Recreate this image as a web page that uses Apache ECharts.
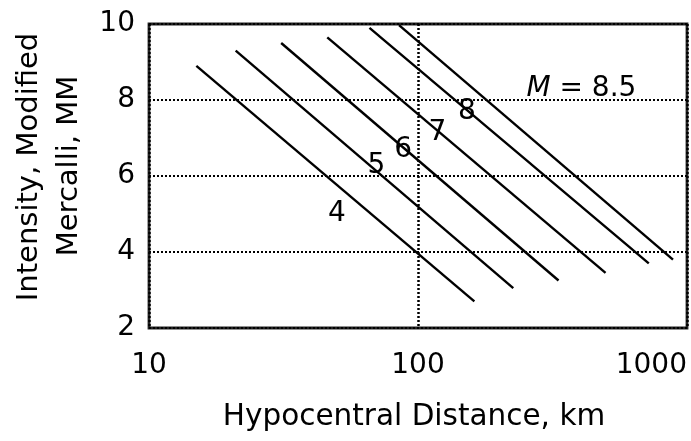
<!DOCTYPE html>
<html>
<head>
<meta charset="utf-8">
<script src="https://cdn.jsdelivr.net/npm/echarts@6/dist/echarts.min.js"></script>
<style>
html,body{margin:0;padding:0;background:#fff;}
#chart{width:691px;height:441px;}
</style>
</head>
<body>
<div id="chart"></div>
<script>
// Magnitude curves: start/end points (distance km, MMI)
const magnitudes = ['4', '5', '6', '7', '8', '8.5'];
const startDistance = [15, 21, 31, 46, 66, 85];
const startIntensity = [8.9, 9.3, 9.5, 9.65, 9.9, 9.97];
const endDistance = [162, 226, 333, 498, 721, 887];
const endIntensity = [2.7, 3.05, 3.25, 3.45, 3.7, 3.8];

// Curve labels (anchor in data coordinates)
const labelText = ['4', '5', '6', '7', '8', '{i|M} = 8.5'];
const labelDistance = [50, 70, 88, 118, 152, 405];
const labelIntensity = [5.0, 6.28, 6.68, 7.15, 7.68, 8.3];

// Axis ticks
const xTicks = [10, 100, 1000];
const yTicks = [2, 4, 6, 8, 10];

const FONT = 'DejaVu Sans';

const chart = echarts.init(document.getElementById('chart'), null, {renderer: 'canvas'});

const lineSeries = magnitudes.map((m, i) => ({
  name: 'M ' + m,
  type: 'line',
  data: [[startDistance[i], startIntensity[i]], [endDistance[i], endIntensity[i]]],
  symbol: 'none',
  lineStyle: {color: '#000', width: 2.4},
  silent: true,
  z: 3
}));

const labelSeries = {
  type: 'scatter',
  symbolSize: 0,
  itemStyle: {opacity: 1},
  data: labelText.map((t, i) => [labelDistance[i], labelIntensity[i], t]),
  label: {
    show: true,
    position: 'inside',
    formatter: p => p.data[2],
    color: '#000',
    opacity: 1,
    fontFamily: FONT,
    fontSize: 28,
    rich: {
      i: {fontStyle: 'italic', fontFamily: FONT, fontSize: 28, color: '#000'}
    }
  },
  silent: true,
  z: 4
};

chart.setOption({
  animation: false,
  backgroundColor: '#fff',
  grid: {
    left: 149, right: 4, top: 24, bottom: 113,
    show: true, borderColor: '#222', borderWidth: 2.8, backgroundColor: 'transparent'
  },
  xAxis: {
    type: 'log',
    logBase: 10,
    min: xTicks[0],
    max: xTicks[xTicks.length - 1],
    axisLine: {show: false},
    axisTick: {show: false},
    axisLabel: {
      color: '#000', fontFamily: FONT, fontSize: 28, margin: 24,
      alignMaxLabel: 'right',
      formatter: v => String(v)
    },
    splitLine: {show: true, lineStyle: {color: '#000', width: 2.5, type: [2, 2]}}
  },
  yAxis: {
    type: 'value',
    min: yTicks[0],
    max: yTicks[yTicks.length - 1],
    interval: 2,
    axisLine: {show: false},
    axisTick: {show: false},
    axisLabel: {color: '#000', fontFamily: FONT, fontSize: 28, margin: 14},
    splitLine: {show: true, lineStyle: {color: '#000', width: 2, type: [2, 2]}}
  },
  graphic: [
    {
      type: 'text', x: 29, y: 167, rotation: Math.PI / 2,
      style: {text: 'Intensity, Modified', fontFamily: FONT, fontSize: 29, fill: '#000', align: 'center', verticalAlign: 'middle'}
    },
    {
      type: 'text', x: 69, y: 166, rotation: Math.PI / 2,
      style: {text: 'Mercalli, MM', fontFamily: FONT, fontSize: 29, fill: '#000', align: 'center', verticalAlign: 'middle'}
    },
    {
      type: 'text', x: 414, y: 417,
      style: {text: 'Hypocentral Distance, km', fontFamily: FONT, fontSize: 29.5, fill: '#000', align: 'center', verticalAlign: 'middle'}
    }
  ],
  series: [...lineSeries, labelSeries]
});
</script>
</body>
</html>
